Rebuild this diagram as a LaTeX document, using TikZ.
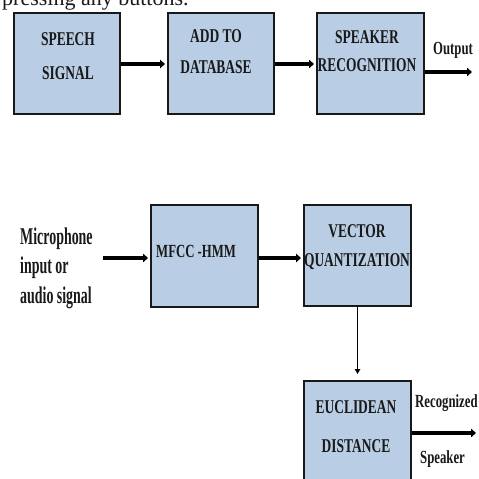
\documentclass[tikz,border=0pt]{standalone}
\usepackage{fontspec}
\setmainfont[FakeStretch=0.69]{Liberation Serif}
\newfontfamily\plainserif{Liberation Serif}
\newfontfamily\narrowbold[FakeStretch=0.58]{Liberation Serif Bold}
\usetikzlibrary{arrows.meta}
\definecolor{boxblue}{RGB}{185,205,229}
\definecolor{boxedge}{RGB}{25,25,25}
\tikzset{
 blk/.style={draw=boxedge, fill=boxblue, line width=2pt, anchor=north west, inner sep=0pt},
 lbl/.style={inner sep=0pt, align=center, text=black!90},
 side/.style={inner sep=0pt, text=black!90},
 fat/.style={line width=3.5pt, -{Triangle[length=5pt,width=8.5pt]}},
 slim/.style={line width=1.6pt, -{Triangle[length=5pt,width=5.5pt]}},
}
\newcommand\fsz[1]{\bfseries\fontsize{19.5}{#1}\selectfont}
\newcommand\ssz[1]{\bfseries\fontsize{18.5}{#1}\selectfont}
\begin{document}
\begin{tikzpicture}[x=1pt,y=-1pt]
\useasboundingbox (0,0) rectangle (479,479);
\clip (0,0) rectangle (479,479);
% clipped top line
\node[side, anchor=base west, font=\plainserif\fontsize{22}{26}\selectfont] (top) at (2,5.5) {pressing any buttons.};
% boxes
\node[blk, minimum width=106pt, minimum height=101pt] (b1) at (13,12) {};
\node[blk, minimum width=106pt, minimum height=101pt] (b2) at (167,12) {};
\node[blk, minimum width=107pt, minimum height=101pt] (b3) at (316,12) {};
\node[blk, minimum width=107pt, minimum height=102pt] (mfcc) at (150,204) {};
\node[blk, minimum width=107pt, minimum height=101pt] (vq) at (303,204) {};
\node[blk, minimum width=107pt, minimum height=120pt] (ed) at (303,380) {};
% box texts
\node[lbl, font=\fsz{34}] (t1) at (68,56) {SPEECH\\SIGNAL};
\node[lbl, font=\fsz{31}] (t2) at (216,51.5) {ADD TO\\DATABASE};
\node[lbl, font=\fsz{28}] (t3) at (367,51) {SPEAKER\\RECOGNITION};
\node[lbl, font=\ssz{20}, anchor=west] (t4) at (156,251) {MFCC -HMM};
\node[lbl, font=\fsz{29}] (t5) at (357,247.5) {VECTOR\\QUANTIZATION};
\node[lbl, font=\fsz{39}] (t6) at (356,426.5) {EUCLIDEAN\\DISTANCE};
% side labels
\node[side, align=left, anchor=north west, font=\narrowbold\fontsize{24}{29.5}\selectfont] (mic) at (20,227.5) {Microphone\\input or\\audio signal};
\node[side, anchor=base west, font=\ssz{20}] (outl) at (433,54) {Output};
\node[side, anchor=base west, font=\ssz{20}] (recl) at (415,407) {Recognized};
\node[side, anchor=base west, font=\ssz{20}] (spkl) at (420,463) {Speaker};
% connector end points
\coordinate (out1) at (472,72);
\coordinate (micR) at (103,258);
\coordinate (out2) at (476,433);
% connectors
\draw[fat, shorten >=2pt] (b1.east |- 0,64) -- (b2.west |- 0,64);
\draw[fat, shorten >=2pt] (b2.east |- 0,64) -- (b3.west |- 0,64);
\draw[fat] (b3.east |- out1) -- (out1);
\draw[fat, shorten >=2pt] (micR) -- (mfcc.west |- micR);
\draw[fat, shorten >=2pt] (mfcc.east |- micR) -- (vq.west |- micR);
\draw[slim, shorten >=6pt] (vq.south) -- (ed.north);
\draw[fat] (ed.east |- out2) -- (out2);
\end{tikzpicture}
\end{document}
